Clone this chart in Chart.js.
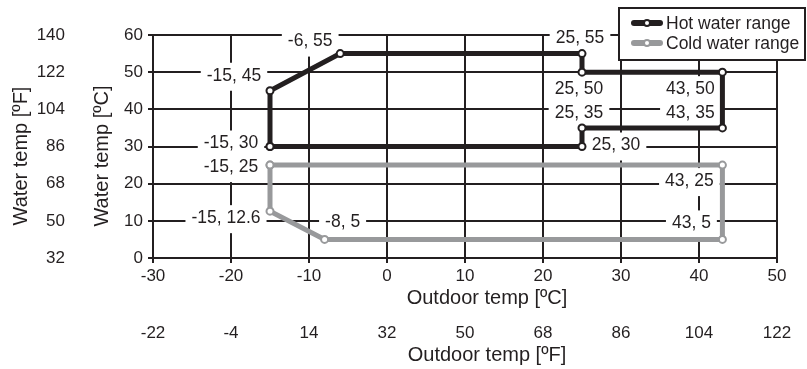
<!DOCTYPE html>
<html>
<head>
<meta charset="utf-8">
<script src="https://cdn.jsdelivr.net/npm/chart.js@4.4.1/dist/chart.umd.min.js"></script>
<style>
  html, body { margin: 0; padding: 0; background: #fff; }
  #wrap { width: 807px; height: 369px; }
</style>
</head>
<body>
<div id="wrap"><canvas id="operating-range"></canvas></div>
<script>
// plage de fonctionnement : temp exterieure / temp de l'eau

const hotOutdoor = [-15, -15, -6, 25, 25, 43, 43, 25, 25, -15];
const hotWater = [30, 45, 55, 55, 50, 50, 35, 35, 30, 30];
const coldOutdoor = [-15, 43, 43, -8, -15, -15];
const coldWater = [25, 25, 5, 5, 12.6, 25];

const outdoorTicksC = [-30, -20, -10, 0, 10, 20, 30, 40, 50];
const outdoorTicksF = [-22, -4, 14, 32, 50, 68, 86, 104, 122];
const waterTicksC = [0, 10, 20, 30, 40, 50, 60];
const waterTicksF = [32, 50, 68, 86, 104, 122, 140];

const seriesNames = ["Hot water range", "Cold water range"];
const axisNames = {
    xC: "Outdoor temp [ºC]",
    xF: "Outdoor temp [ºF]",
    yC: "Water temp [ºC]",
    yF: "Water temp [ºF]"
};

// decalage des etiquettes (px) par rapport au point, null = point de fermeture
const hotLabelShift = [[-39, -3], [-36, -15], [-30, -12], [-2, -15], [-3, 17], [-32, 17], [-32, -15], [-3, -15], [34, -1], null];
const coldLabelShift = [[-39, 2], [-33, 16], [-31, -16], [18, -17], [-44, 7], null];

const ink = "#231f20";
const grey = "#98999b";
const family = "'Liberation Sans', Arial, sans-serif";

function toPoints(xs, ys) {
    return xs.map((x, i) => ({ x: x, y: ys[i] }));
}

function fixedTicks(list) {
    return scale => { scale.ticks = list.map(v => ({ value: v })); };
}

const pointLabels = {
    id: "pointLabels",
    beforeDatasetsDraw(chart) {
        const ctx = chart.ctx;
        const items = [];
        chart.data.datasets.forEach((ds, i) => {
            chart.getDatasetMeta(i).data.forEach((pt, j) => {
                const shift = ds.labelShift[j];
                if (!shift) return;
                items.push({
                    text: ds.data[j].x + ", " + ds.data[j].y,
                    x: pt.x + shift[0],
                    y: pt.y + shift[1]
                });
            });
        });
        ctx.save();
        ctx.font = "17.5px " + family;
        ctx.textAlign = "center";
        ctx.textBaseline = "middle";
        ctx.fillStyle = "#fff";
        items.forEach(it => {
            const w = ctx.measureText(it.text).width;
            ctx.fillRect(it.x - w / 2 - 6, it.y - 13, w + 12, 28);
        });
        ctx.fillStyle = ink;
        items.forEach(it => ctx.fillText(it.text, it.x, it.y));
        ctx.restore();
    }
};

// titres des axes, un peu decales par rapport au centre comme sur l'original
const axisTitles = {
    id: "axisTitles",
    afterDraw(chart) {
        const ctx = chart.ctx;
        ctx.save();
        ctx.fillStyle = ink;
        ctx.font = "20px " + family;
        ctx.textAlign = "center";
        ctx.textBaseline = "middle";
        ctx.fillText(axisNames.xC, 487, 298);
        ctx.fillText(axisNames.xF, 487, 355);
        [[axisNames.yF, 21], [axisNames.yC, 102]].forEach(([txt, x]) => {
            ctx.save();
            ctx.translate(x, 156);
            ctx.rotate(-Math.PI / 2);
            ctx.fillText(txt, 0, 0);
            ctx.restore();
        });
        ctx.restore();
    }
};

const boxLegend = {
    id: "boxLegend",
    afterDraw(chart) {
        const ctx = chart.ctx;
        ctx.save();
        ctx.fillStyle = "#fff";
        ctx.fillRect(619, 8, 186, 52);
        ctx.strokeStyle = ink;
        ctx.lineWidth = 2;
        ctx.strokeRect(619, 8, 186, 52);
        chart.data.datasets.forEach((ds, i) => {
            const y = 23 + i * 20;
            ctx.strokeStyle = ds.borderColor;
            ctx.lineWidth = 6;
            ctx.lineCap = "round";
            ctx.beginPath();
            ctx.moveTo(634, y);
            ctx.lineTo(660, y);
            ctx.stroke();
            ctx.fillStyle = "#fff";
            ctx.lineWidth = 2;
            ctx.beginPath();
            ctx.arc(647, y, 3, 0, Math.PI * 2);
            ctx.fill();
            ctx.stroke();
            ctx.fillStyle = ink;
            ctx.font = "17.5px " + family;
            ctx.textAlign = "left";
            ctx.textBaseline = "middle";
            ctx.fillText(ds.label, 666, y + 1);
        });
        ctx.restore();
    }
};

const tickFont = { family: family, size: 17 };

new Chart(document.getElementById("operating-range"), {
    type: "line",
    data: {
        datasets: [
            {
                label: seriesNames[0],
                data: toPoints(hotOutdoor, hotWater),
                labelShift: hotLabelShift,
                borderColor: ink,
                borderWidth: 5,
                pointRadius: 3.5,
                pointBorderWidth: 2,
                pointBackgroundColor: "#fff",
                pointBorderColor: ink,
                tension: 0
            },
            {
                label: seriesNames[1],
                data: toPoints(coldOutdoor, coldWater),
                labelShift: coldLabelShift,
                borderColor: grey,
                borderWidth: 5,
                pointRadius: 3.5,
                pointBorderWidth: 2,
                pointBackgroundColor: "#fff",
                pointBorderColor: grey,
                tension: 0
            }
        ]
    },
    options: {
        responsive: true,
        maintainAspectRatio: false,
        animation: false,
        layout: { padding: { top: 35, right: 30, bottom: 0, left: 0 } },
        plugins: {
            legend: { display: false },
            tooltip: { enabled: false }
        },
        scales: {
            x: {
                type: "linear",
                position: "bottom",
                weight: 0,
                min: -30,
                max: 50,
                afterBuildTicks: fixedTicks(outdoorTicksC),
                afterFit: s => { s.height = 50; },
                grid: { color: ink, lineWidth: 2, tickLength: 5 },
                border: { color: ink, width: 2 },
                ticks: { color: ink, font: tickFont, padding: 3, maxRotation: 0, autoSkip: false }
            },
            xF: {
                type: "linear",
                position: "bottom",
                weight: 1,
                min: -22,
                max: 122,
                afterBuildTicks: fixedTicks(outdoorTicksF),
                afterFit: s => { s.height = 61; },
                grid: { display: false, drawTicks: false },
                border: { display: false },
                ticks: { color: ink, font: tickFont, padding: 15, maxRotation: 0, autoSkip: false }
            },
            y: {
                type: "linear",
                position: "left",
                weight: 0,
                min: 0,
                max: 60,
                afterBuildTicks: fixedTicks(waterTicksC),
                afterFit: s => { s.width = 78; },
                grid: { color: ink, lineWidth: 2, tickLength: 5 },
                border: { color: ink, width: 2 },
                ticks: { color: ink, font: tickFont, padding: 5 }
            },
            yF: {
                type: "linear",
                position: "left",
                weight: 1,
                min: 32,
                max: 140,
                afterBuildTicks: fixedTicks(waterTicksF),
                afterFit: s => { s.width = 75; },
                grid: { display: false, drawTicks: false },
                border: { display: false },
                ticks: { color: ink, font: tickFont, padding: 10 }
            }
        }
    },
    plugins: [pointLabels, axisTitles, boxLegend]
});
</script>
</body>
</html>
